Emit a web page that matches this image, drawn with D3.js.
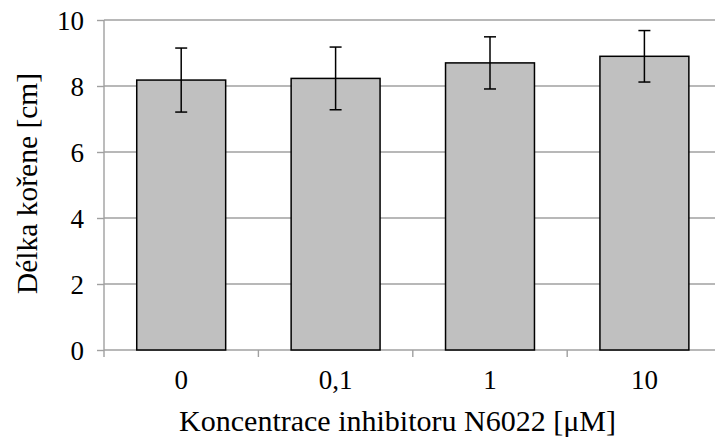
<!DOCTYPE html>
<html>
<head>
<meta charset="utf-8">
<script src="https://cdn.jsdelivr.net/npm/d3@7"></script>
</head>
<body style="margin:0;background:#fff">
<svg id="chart" width="715" height="439"></svg>
<script>
// data
let categories = ['0', '0,1', '1', '10']
let means = [8.18, 8.23, 8.70, 8.90]
let errors = [0.97, 0.95, 0.79, 0.78]
let yTicks = [0, 2, 4, 6, 8, 10]

let serif = 'Liberation Serif'
let canvas = d3.select('#chart')

let plotLeft = 104, plotTop = 20, plotBottom = 350
let plotRight = plotLeft + 4 * 154.4   // plot runs past the right edge of the picture

let x = d3.scaleBand()
    .domain(categories)
    .range([plotLeft, plotRight])
    .paddingInner(0.424)
    .paddingOuter(0.212)

let y = d3.scaleLinear()
    .domain([0, 10])
    .range([plotBottom, plotTop])

let setFont = (sel, size) => sel
    .attr('font-family', serif)
    .attr('font-size', size)
    .style('font-family', serif)
    .style('font-size', size + 'px')

// gridlines
canvas.append('g')
    .selectAll('line')
    .data(yTicks.filter(t => t > 0))
    .enter()
    .append('line')
    .attr('x1', plotLeft).attr('x2', plotRight)
    .attr('y1', d => y(d)).attr('y2', d => y(d))
    .attr('stroke', '#a0a0a0')
    .attr('stroke-width', 1.4)

// y axis
let yAxis = canvas.append('g')
    .attr('transform', 'translate(' + plotLeft + ',0)')
    .call(d3.axisLeft(y).tickValues(yTicks).tickSize(7).tickPadding(13))
setFont(yAxis, 27)
yAxis.select('.domain').attr('stroke', '#a0a0a0').attr('stroke-width', 1.4)
    .attr('d', 'M0,' + plotTop + 'V' + (plotBottom + 7))
yAxis.selectAll('.tick line').attr('stroke', '#a0a0a0').attr('stroke-width', 1.4)
setFont(yAxis.selectAll('.tick text'), 27).attr('dy', '0.34em')

// x axis line + ticks at category boundaries
let step = x.step()
let xAxis = canvas.append('g')
xAxis.append('line')
    .attr('x1', plotLeft).attr('x2', plotRight)
    .attr('y1', plotBottom).attr('y2', plotBottom)
    .attr('stroke', '#a0a0a0').attr('stroke-width', 1.4)
xAxis.selectAll('.bt')
    .data(categories.slice(1))
    .enter()
    .append('line')
    .attr('class', 'bt')
    .attr('x1', (d) => x(d) - step * x.paddingInner() / 2)
    .attr('x2', (d) => x(d) - step * x.paddingInner() / 2)
    .attr('y1', plotBottom).attr('y2', plotBottom + 7)
    .attr('stroke', '#a0a0a0').attr('stroke-width', 1.4)
let xLabels = xAxis.selectAll('.lbl')
    .data(categories)
    .enter()
    .append('text')
    .attr('class', 'lbl')
    .attr('x', (d) => x(d) + x.bandwidth() / 2)
    .attr('y', 389)
    .attr('text-anchor', 'middle')
    .text(d => d)
setFont(xLabels, 27)

// bars
canvas.append('g')
    .selectAll('rect')
    .data(categories)
    .enter()
    .append('rect')
    .attr('x', d => x(d))
    .attr('y', (d, i) => y(means[i]))
    .attr('width', x.bandwidth())
    .attr('height', (d, i) => plotBottom - y(means[i]))
    .attr('fill', '#c0c0c0')
    .attr('stroke', '#000')
    .attr('stroke-width', 1.5)

// error bars
let err = canvas.append('g')
    .selectAll('g')
    .data(categories)
    .enter()
    .append('g')
    .attr('transform', d => 'translate(' + (x(d) + x.bandwidth() / 2) + ',0)')
err.append('line')
    .attr('y1', (d, i) => y(means[i] + errors[i]))
    .attr('y2', (d, i) => y(means[i] - errors[i]))
    .attr('stroke', '#000').attr('stroke-width', 1.5)
err.append('line')
    .attr('x1', -6).attr('x2', 6)
    .attr('y1', (d, i) => y(means[i] + errors[i]))
    .attr('y2', (d, i) => y(means[i] + errors[i]))
    .attr('stroke', '#000').attr('stroke-width', 1.5)
err.append('line')
    .attr('x1', -6).attr('x2', 6)
    .attr('y1', (d, i) => y(means[i] - errors[i]))
    .attr('y2', (d, i) => y(means[i] - errors[i]))
    .attr('stroke', '#000').attr('stroke-width', 1.5)

// axis titles
let xTitle = canvas.append('text')
    .attr('x', 397.5)
    .attr('y', 431)
    .attr('text-anchor', 'middle')
    .text('Koncentrace inhibitoru N6022 [μM]')
setFont(xTitle, 30)

let yTitle = canvas.append('text')
    .attr('transform', 'translate(37,183.5) rotate(-90)')
    .attr('text-anchor', 'middle')
    .text('Délka kořene [cm]')
setFont(yTitle, 29.5)
</script>
</body>
</html>
